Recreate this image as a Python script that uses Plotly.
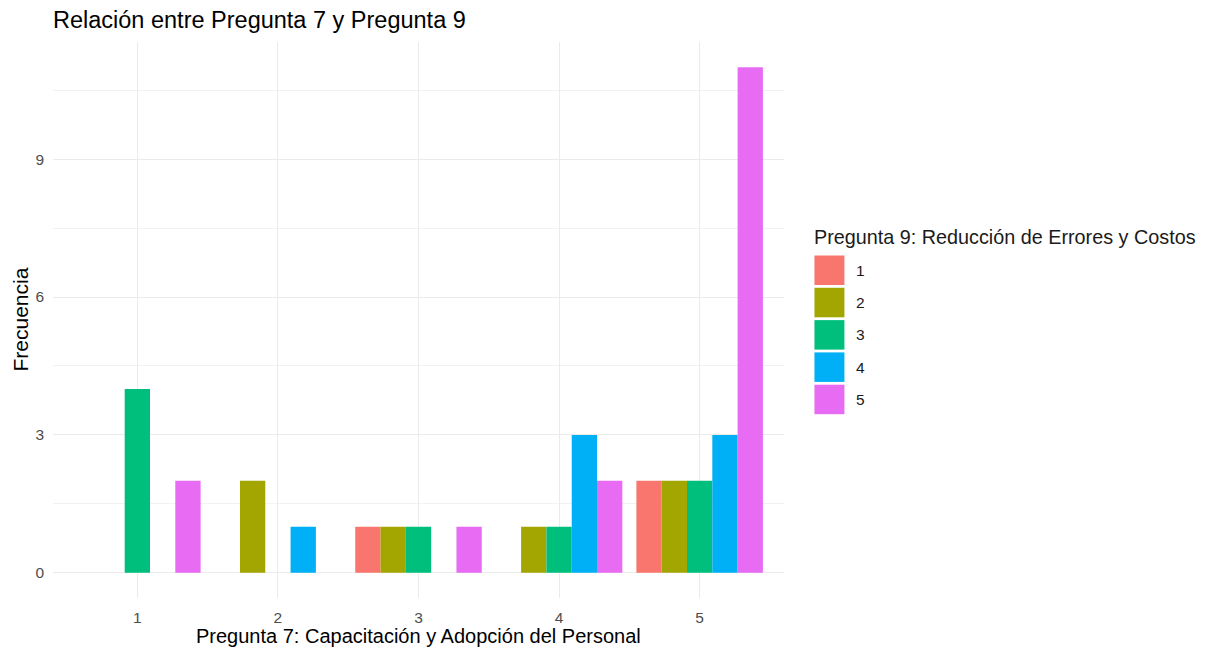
import plotly.graph_objects as go

categories = [1, 2, 3, 4, 5]
groups = ["1", "2", "3", "4", "5"]
counts = {
    "1": [0, 0, 1, 0, 2],
    "2": [0, 2, 1, 1, 2],
    "3": [4, 0, 1, 1, 2],
    "4": [0, 1, 0, 3, 3],
    "5": [2, 0, 1, 2, 11],
}
colors = ["#F8766D", "#A3A500", "#00BF7D", "#00B0F6", "#E76BF3"]

title_text = "Relación entre Pregunta 7 y Pregunta 9"
x_title = "Pregunta 7: Capacitación y Adopción del Personal"
y_title = "Frecuencia"
legend_title = "Pregunta 9: Reducción de Errores y Costos"
y_ticks = [0, 3, 6, 9]

FONT = "Liberation Sans, Arial, sans-serif"
W, H = 1211, 650
L, R, T, B = 52.5, 426.5, 42, 52

fig = go.Figure()
for g, c in zip(groups, colors):
    fig.add_trace(go.Bar(x=categories, y=counts[g], name=g, marker=dict(color=c, line=dict(width=0)),
                         showlegend=False))

pw = W - L - R
ph = H - T - B
def px_x(px):
    return (px - L) / pw
def px_y(py):
    return (H - B - py) / ph

key_x0, key_w, key_h, key_top, key_step = 815, 30, 29.5, 255.5, 32.3
shapes = []
annotations = []
for i, (g, c) in enumerate(zip(groups, colors)):
    y0 = key_top + i * key_step
    shapes.append(dict(type="rect", xref="paper", yref="paper",
                       x0=px_x(key_x0), x1=px_x(key_x0 + key_w),
                       y0=px_y(y0 + key_h), y1=px_y(y0),
                       fillcolor=c, line=dict(width=0)))
    annotations.append(dict(text=g, xref="paper", yref="paper", x=px_x(855), y=px_y(y0 + key_h / 2),
                            xanchor="left", yanchor="middle", showarrow=False,
                            font=dict(family=FONT, size=15.5, color="#1a1a1a")))
annotations.append(dict(text=legend_title, xref="paper", yref="paper", x=px_x(813), y=px_y(237),
                        xanchor="left", yanchor="middle", showarrow=False,
                        font=dict(family=FONT, size=19.8, color="#1a1a1a")))
# axis titles
annotations.append(dict(text=x_title, xref="paper", yref="paper", x=0.5, y=px_y(636),
                        xanchor="center", yanchor="middle", showarrow=False,
                        font=dict(family=FONT, size=20, color="black")))
annotations.append(dict(text=y_title, xref="paper", yref="paper", x=px_x(19), y=0.5,
                        xanchor="center", yanchor="middle", showarrow=False, textangle=-90,
                        font=dict(family=FONT, size=21, color="black")))

fig.update_layout(
    width=W, height=H,
    margin=dict(l=L, r=R, t=T, b=B, autoexpand=False),
    paper_bgcolor="white", plot_bgcolor="white",
    barmode="group", bargap=0.1, bargroupgap=0,
    title=dict(text=title_text, x=53 / W, xanchor="left", y=1 - 20 / H, yanchor="middle",
               font=dict(family=FONT, size=23.5, color="black")),
    font=dict(family=FONT),
    shapes=shapes, annotations=annotations,
    xaxis=dict(range=[0.4, 5.6], tickvals=categories, ticktext=[str(c) for c in categories],
               showgrid=True, gridcolor="#EBEBEB", gridwidth=1.1, zeroline=False, showline=False,
               ticks="", tickfont=dict(family=FONT, size=15.5, color="#4D4D4D"), ticklabelstandoff=8),
    yaxis=dict(range=[-0.55, 11.55], tickvals=y_ticks, showgrid=True, gridcolor="#EBEBEB", gridwidth=1.1,
               zeroline=False, showline=False, ticks="",
               tickfont=dict(family=FONT, size=15.5, color="#4D4D4D"), ticklabelstandoff=8,
               minor=dict(tick0=1.5, dtick=3, showgrid=True, gridcolor="#F2F2F2", gridwidth=0.6)),
)

fig.write_html("out.html", config={"displayModeBar": False},
               post_script="document.body.style.margin='0';document.body.style.padding='0';")
